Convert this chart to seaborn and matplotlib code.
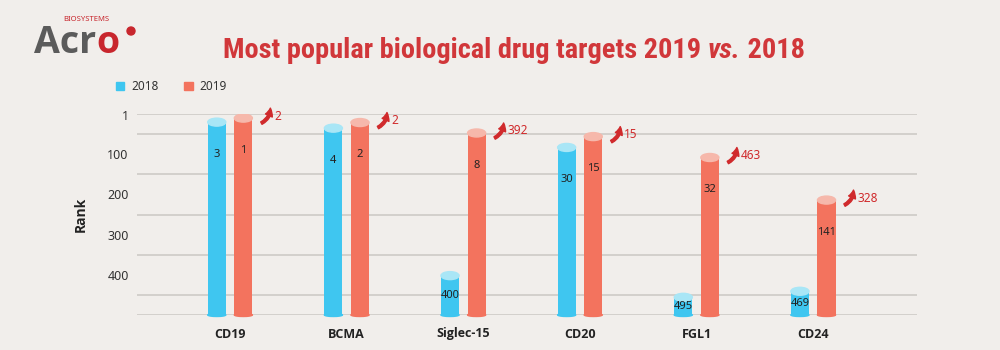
import numpy as np
import pandas as pd
import matplotlib
matplotlib.use("Agg")
import matplotlib.pyplot as plt
from matplotlib import font_manager
from matplotlib.patches import Ellipse, FancyArrowPatch, Patch, Circle
import seaborn as sns

targets = ['CD19', 'BCMA', 'Siglec-15', 'CD20', 'FGL1', 'CD24']
years = ['2018', '2019']
# rank printed on each bar
rank_2018 = [3, 4, 400, 30, 495, 469]
rank_2019 = [1, 2, 8, 15, 32, 141]
# where the top of each bar sits on the rank axis
top_2018 = [20, 35, 402, 83, 456, 441]
top_2019 = [10, 21, 47, 56, 108, 214]
rank_ticks = [1, 100, 200, 300, 400]
max_rank = 500

blue = '#3fc6f0'
blue_cap = '#a9e6f6'
red = '#f3735e'
red_cap = '#f6b8ab'
title_red = '#d1373a'
arrow_red = '#d02a2c'
logo_red = '#c8262d'
bg = '#f1eeeb'


def pick_family(prefs):
    names = {f.name for f in font_manager.fontManager.ttflist}
    for p in prefs:
        if p in names:
            return p
    return 'DejaVu Sans'


def pick_bold_family(prefs):
    for p in prefs:
        for f in font_manager.fontManager.ttflist:
            w = f.weight if isinstance(f.weight, int) else 700 if 'bold' in str(f.weight) else 400
            if f.name == p and w >= 600 and f.style == 'normal':
                return p
    return 'DejaVu Sans'


title_font = pick_family(['Liberation Sans Narrow', 'Roboto Condensed', 'Noto Sans'])
body_font = pick_family(['Noto Sans', 'Open Sans', 'DejaVu Sans'])
bold_font = pick_bold_family(['Open Sans', 'Noto Sans', 'Lato', 'Roboto', 'DejaVu Sans'])

sns.set_style('white')
plt.rcParams['font.family'] = [body_font, 'DejaVu Sans']

fig = plt.figure(figsize=(10, 3.5), dpi=100)
fig.patch.set_facecolor(bg)
ax = fig.add_axes([0.137, 0.1, 0.78, 0.574])
ax.set_facecolor(bg)

df = pd.DataFrame({
    'target': targets * 2,
    'year': [years[0]] * len(targets) + [years[1]] * len(targets),
    'height': [max_rank - t for t in top_2018 + top_2019],
})
sns.barplot(data=df, x='target', y='height', hue='year', order=targets, hue_order=years,
            palette=[blue, red], width=0.456, gap=0.32, errorbar=None, legend=False,
            saturation=1, linewidth=0, ax=ax, zorder=3)

ax.set_xlim(-0.798, 5.89)
ax.set_ylim(0, max_rank)

# size of one pixel in data units
px_x = (5.89 + 0.798) / 780.0
px_y = max_rank / 201.0

ranks = [rank_2018, rank_2019]
caps = [blue_cap, red_cap]
for ci, cont in enumerate(ax.containers):
    for i, bar in enumerate(cont):
        xc = bar.get_x() + bar.get_width() / 2
        bw = bar.get_width()
        h = bar.get_height()
        ax.add_patch(Ellipse((xc, 0), bw, 3 * px_y, color=bar.get_facecolor(), zorder=3, clip_on=False))
        ax.add_patch(Ellipse((xc, h), bw, 8 * px_y, color=caps[ci], zorder=4))
        lab_h = h - min(80, 0.5 * h)
        ax.text(xc, lab_h, str(ranks[ci][i]), ha='center', va='center', fontsize=8,
                color='#222222', zorder=5)
        if ci == 1:
            gain = rank_2018[i] - rank_2019[i]
            arr = FancyArrowPatch((xc + 18 * px_x, h - 5 * px_y), (xc + 27 * px_x, h + 10 * px_y),
                                  arrowstyle='simple,head_length=0.6,head_width=0.6,tail_width=0.22',
                                  connectionstyle='arc3,rad=0.3', mutation_scale=9,
                                  color=arrow_red, shrinkA=0, shrinkB=0, zorder=5, clip_on=False)
            ax.add_patch(arr)
            ax.text(xc + 31 * px_x, h + 2 * px_y, str(gain), ha='left', va='center',
                    fontsize=8.5, color=arrow_red, zorder=5)

ax.set_yticks([max_rank - r for r in rank_ticks])
ax.set_yticklabels([str(r) for r in rank_ticks])
ax.set_yticks(np.arange(0, max_rank + 1, 50), minor=True)
ax.grid(False)
ax.grid(axis='y', which='minor', color='#cbc7c3', lw=1.1, zorder=0)
ax.tick_params(axis='y', which='both', length=0, pad=6, labelsize=9, labelcolor='#333333')
ax.tick_params(axis='x', length=0, pad=9, labelsize=9, labelcolor='#222222')
for lab in ax.get_xticklabels():
    lab.set_fontweight('bold')
    lab.set_family([bold_font, 'DejaVu Sans'])
for s in ax.spines.values():
    s.set_visible(False)
ax.set_xlabel('')
ax.set_ylabel('Rank', fontsize=10, fontweight='bold', color='#222222', labelpad=14,
              family=[bold_font, 'DejaVu Sans'])

# legend
handles = [Patch(color=blue), Patch(color=red)]
fig.legend(handles, years, loc='center left', bbox_to_anchor=(0.105, 0.752), ncol=2,
           frameon=False, handlelength=0.7, handleheight=0.7, handletextpad=0.6,
           columnspacing=2.2, fontsize=8.5, labelcolor='#333333')

# title with italic "vs."
fig.canvas.draw()
r = fig.canvas.get_renderer()
parts = [('Most popular biological drug targets 2019 ', 'normal'), ('vs.', 'italic'), (' 2018', 'normal')]


def title_pieces(fs):
    out = []
    for s, style in parts:
        out.append(fig.text(0, 0.857, s, fontsize=fs, color=title_red, fontweight='semibold',
                            fontstyle=style, family=[title_font, 'DejaVu Sans'],
                            va='center', ha='left'))
    return out


pieces = title_pieces(18)
total = sum(t.get_window_extent(r).width for t in pieces)
for t in pieces:
    t.remove()
fs = 18 * 582.0 / total
pieces = title_pieces(fs)
widths = [t.get_window_extent(r).width for t in pieces]
x = 514 - sum(widths) / 2
for t, w in zip(pieces, widths):
    t.set_x(x / 1000.0)
    x += w

# logo
acr = fig.text(0.034, 0.849, 'Acr', fontsize=27, color='#5b5b5b', fontweight='bold',
               va='baseline', ha='left', family=[bold_font, 'DejaVu Sans'])
w_acr = acr.get_window_extent(r).x1
fig.text(w_acr / 1000.0, 0.849, 'o', fontsize=27, color=logo_red, fontweight='bold',
         va='baseline', ha='left', family=[bold_font, 'DejaVu Sans'])
fig.patches.append(Circle((1.31, 3.19), 0.04, transform=fig.dpi_scale_trans, color=logo_red))
fig.text(0.063, 0.945, 'BIOSYSTEMS', fontsize=5.5, color=logo_red, va='center', ha='left')

fig.savefig('out.png', dpi=100, facecolor=bg)
